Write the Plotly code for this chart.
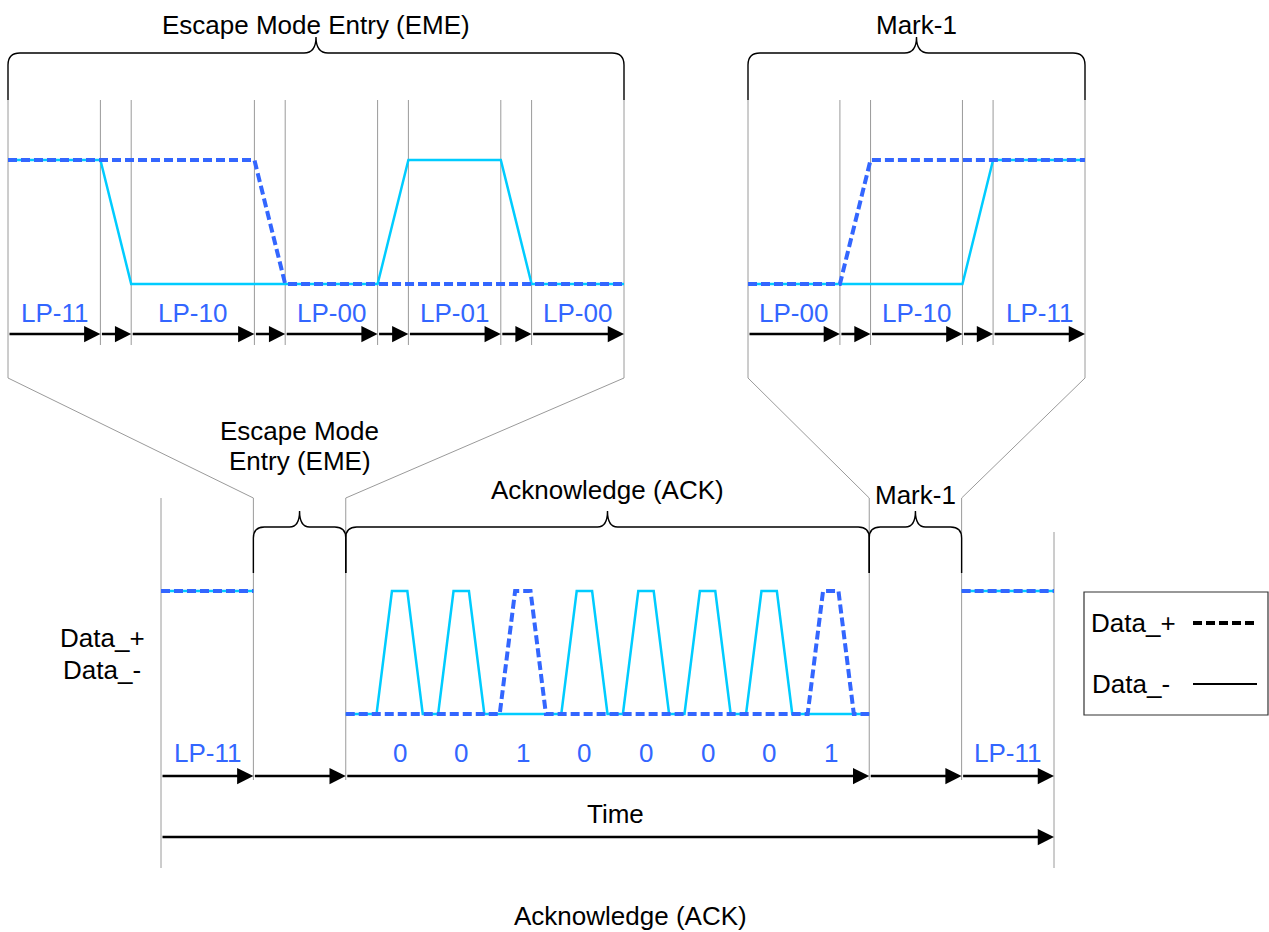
import plotly.graph_objects as go

W, H = 1269, 932

# ---------------- data ----------------
# Top-left zoom: Escape Mode Entry (time in units, level 0 = low, 1 = high)
eme_time   = [0, 3, 4, 8, 9, 12, 13, 16, 17, 20]
eme_dplus  = [1, 1, 1, 1, 0, 0, 0, 0, 0, 0]
eme_dminus = [1, 1, 0, 0, 0, 0, 1, 1, 0, 0]
eme_states = ["LP-11", "", "LP-10", "", "LP-00", "", "LP-01", "", "LP-00"]

# Top-right zoom: Mark-1
mark_time   = [0, 3, 4, 7, 8, 11]
mark_dplus  = [0, 0, 1, 1, 1, 1]
mark_dminus = [0, 0, 0, 0, 1, 1]
mark_states = ["LP-00", "", "LP-10", "", "LP-11"]

# Bottom overview sequence
seq_time   = [0, 3, 6, 23, 26, 29]
seq_states = ["LP-11", "", "", "", "LP-11"]

lp11_start_time  = [0, 3]
lp11_start_level = [1, 1]
lp11_end_time    = [26, 29]
lp11_end_level   = [1, 1]

ack_bits = ["0", "0", "1", "0", "0", "0", "0", "1"]
ack_time = [6,
            7, 7.5, 8, 8.5,
            9, 9.5, 10, 10.5,
            11, 11.5, 12, 12.5,
            13, 13.5, 14, 14.5,
            15, 15.5, 16, 16.5,
            17, 17.5, 18, 18.5,
            19, 19.5, 20, 20.5,
            21, 21.5, 22, 22.5,
            23]
ack_dplus = [0,
             0, 0, 0, 0,
             0, 0, 0, 0,
             0, 1, 1, 0,
             0, 0, 0, 0,
             0, 0, 0, 0,
             0, 0, 0, 0,
             0, 0, 0, 0,
             0, 1, 1, 0,
             0]
ack_dminus = [0,
              0, 1, 1, 0,
              0, 1, 1, 0,
              0, 0, 0, 0,
              0, 1, 1, 0,
              0, 1, 1, 0,
              0, 1, 1, 0,
              0, 1, 1, 0,
              0, 0, 0, 0,
              0]

# ---------------- styles / layout constants ----------------
C_PLUS = "#3366FF"
C_MINUS = "#00CCFF"
C_LABEL = "#3366FF"
C_GRID = "#9a9a9a"
FONT = "Liberation Sans, Arial, Helvetica, sans-serif"
FS = 26
DASH = "9px,4px"

# panel placement in pixels: time span -> x pixels, level 1/0 -> y pixels
TL = dict(t=(0, 20), px=(8, 624), hi=160, lo=284, ax=("x", "y"))
TR = dict(t=(0, 11), px=(748, 1085), hi=160, lo=284, ax=("x2", "y2"))
BT = dict(t=(0, 29), px=(161, 1054), hi=591, lo=714, ax=("x3", "y3"))
CV = ("x4", "y4")  # pixel canvas for decorations


def xrng(p):
    (t0, t1), (p0, p1) = p["t"], p["px"]
    s = (p1 - p0) / (t1 - t0)
    return [t0 - p0 / s, t0 + (W - p0) / s]


def yrng(p):
    s = (p["hi"] - p["lo"])  # pixels per level unit (negative)
    return [(H - p["lo"]) / s, (0 - p["lo"]) / s]


def tpx(p, t):
    (t0, t1), (p0, p1) = p["t"], p["px"]
    return p0 + (t - t0) * (p1 - p0) / (t1 - t0)


fig = go.Figure()


def add_signal(p, t, dm, dp):
    xa, ya = p["ax"]
    fig.add_trace(go.Scatter(x=t, y=dm, mode="lines", xaxis=xa, yaxis=ya,
                             line=dict(color=C_MINUS, width=2.5), hoverinfo="skip"))
    fig.add_trace(go.Scatter(x=t, y=dp, mode="lines", xaxis=xa, yaxis=ya,
                             line=dict(color=C_PLUS, width=4, dash=DASH), hoverinfo="skip"))


add_signal(TL, eme_time, eme_dminus, eme_dplus)
add_signal(TR, mark_time, mark_dminus, mark_dplus)
add_signal(BT, lp11_start_time, lp11_start_level, lp11_start_level)
add_signal(BT, ack_time, ack_dminus, ack_dplus)
add_signal(BT, lp11_end_time, lp11_end_level, lp11_end_level)

shapes = []
annots = []


def vline(p, t, y0, y1):
    shapes.append(dict(type="line", xref=p["ax"][0], yref=CV[1], x0=t, x1=t, y0=y0, y1=y1,
                       line=dict(color=C_GRID, width=1), layer="below"))


def arrow(p, t0, t1, y):
    xa = p["ax"][0]
    annots.append(dict(x=t1, y=y, ax=t0, ay=y, xref=xa, axref=xa, yref=CV[1], ayref=CV[1],
                       text="", showarrow=True, arrowhead=2, arrowsize=1.25, arrowwidth=2.6,
                       arrowcolor="black", standoff=0, startstandoff=0))


def label(xref, x, y, text, color="black"):
    annots.append(dict(x=x, y=y, xref=xref, yref=CV[1], text=text, showarrow=False,
                       xanchor="center", yanchor="middle",
                       font=dict(family=FONT, size=FS, color=color)))


# top panels: grid, arrows, state labels
for p, times, states in ((TL, eme_time, eme_states), (TR, mark_time, mark_states)):
    for i, t in enumerate(times):
        outer = i == 0 or i == len(times) - 1
        vline(p, t, 100, 378 if outer else 345)
    for i in range(len(times) - 1):
        arrow(p, times[i], times[i + 1], 334)
        if states[i]:
            label(p["ax"][0], (times[i] + times[i + 1]) / 2, 313, states[i], C_LABEL)

# bottom panel
for i, t in enumerate(seq_time):
    if i == 0:
        vline(BT, t, 498, 868)
    elif i == len(seq_time) - 1:
        vline(BT, t, 532, 868)
    else:
        vline(BT, t, 498, 780)
for i in range(len(seq_time) - 1):
    arrow(BT, seq_time[i], seq_time[i + 1], 776)
    if seq_states[i]:
        label(BT["ax"][0], (seq_time[i] + seq_time[i + 1]) / 2, 753, seq_states[i], C_LABEL)
arrow(BT, seq_time[0], seq_time[-1], 837)
for k, b in enumerate(ack_bits):
    tc = (ack_time[2 + 4 * k] + ack_time[3 + 4 * k]) / 2
    label(BT["ax"][0], tc, 753, b, C_LABEL)


# braces and connectors (pixel canvas)
def brace(x0, x1, xm, y_line, y_tip, y_side, r, w):
    path = (f"M{x0},{y_side} L{x0},{y_line + r} Q{x0},{y_line} {x0 + r},{y_line} "
            f"L{xm - w},{y_line} Q{xm},{y_line} {xm},{y_tip} "
            f"Q{xm},{y_line} {xm + w},{y_line} L{x1 - r},{y_line} "
            f"Q{x1},{y_line} {x1},{y_line + r} L{x1},{y_side}")
    shapes.append(dict(type="path", path=path, xref=CV[0], yref=CV[1],
                       line=dict(color="black", width=1.4)))


def seg(x0, y0, x1, y1, color=C_GRID, width=1, dash=None):
    shapes.append(dict(type="line", xref=CV[0], yref=CV[1], x0=x0, y0=y0, x1=x1, y1=y1,
                       line=dict(color=color, width=width, dash=dash), layer="below"))


tl0, tl1 = tpx(TL, eme_time[0]), tpx(TL, eme_time[-1])
tr0, tr1 = tpx(TR, mark_time[0]), tpx(TR, mark_time[-1])
b = [tpx(BT, t) for t in seq_time]

brace(tl0, tl1, (tl0 + tl1) / 2, 53, 37, 100, 12, 12)
brace(tr0, tr1, (tr0 + tr1) / 2, 53, 37, 100, 12, 12)
for i in (1, 2, 3):
    brace(b[i], b[i + 1], (b[i] + b[i + 1]) / 2, 527, 511, 573, 11, 10)

seg(tl0, 378, b[1], 498)
seg(tl1, 378, b[2], 498)
seg(tr0, 378, b[3], 498)
seg(tr1, 378, b[4], 498)

# titles and captions
label(CV[0], (tl0 + tl1) / 2, 25, "Escape Mode Entry (EME)")
label(CV[0], (tr0 + tr1) / 2, 25, "Mark-1")
label(CV[0], (b[1] + b[2]) / 2, 431, "Escape Mode")
label(CV[0], (b[1] + b[2]) / 2, 461, "Entry (EME)")
label(CV[0], (b[2] + b[3]) / 2, 490, "Acknowledge (ACK)")
label(CV[0], (b[3] + b[4]) / 2, 495, "Mark-1")
label(CV[0], 102, 638, "Data_+")
label(CV[0], 102, 670, "Data_-")
label(CV[0], 615, 814, "Time")
label(CV[0], 630, 916, "Acknowledge (ACK)")

# legend box
shapes.append(dict(type="rect", xref=CV[0], yref=CV[1], x0=1084, x1=1268, y0=592, y1=715,
                   line=dict(color="#333333", width=1.2), fillcolor="rgba(0,0,0,0)"))
label(CV[0], 1133, 623, "Data_+")
label(CV[0], 1131, 684, "Data_-")
seg(1193, 623, 1257, 623, color="black", width=4, dash="9px,4px")
seg(1193, 684, 1257, 684, color="black", width=2.2)

axis_common = dict(visible=False, fixedrange=True, showgrid=False, zeroline=False)
fig.update_layout(
    width=W, height=H, autosize=False,
    margin=dict(l=0, r=0, t=0, b=0, pad=0),
    paper_bgcolor="white", plot_bgcolor="rgba(0,0,0,0)",
    showlegend=False,
    font=dict(family=FONT, size=FS, color="black"),
    xaxis=dict(range=xrng(TL), domain=[0, 1], anchor="y", **axis_common),
    yaxis=dict(range=yrng(TL), domain=[0, 1], anchor="x", **axis_common),
    xaxis2=dict(range=xrng(TR), domain=[0, 1], anchor="y2", overlaying="x", **axis_common),
    yaxis2=dict(range=yrng(TR), domain=[0, 1], anchor="x2", overlaying="y", **axis_common),
    xaxis3=dict(range=xrng(BT), domain=[0, 1], anchor="y3", overlaying="x", **axis_common),
    yaxis3=dict(range=yrng(BT), domain=[0, 1], anchor="x3", overlaying="y", **axis_common),
    xaxis4=dict(range=[0, W], domain=[0, 1], anchor="y4", overlaying="x", **axis_common),
    yaxis4=dict(range=[H, 0], domain=[0, 1], anchor="x4", overlaying="y", **axis_common),
    shapes=shapes,
    annotations=annots,
)

fig.write_html("out.html", config={"displayModeBar": False},
               post_script="document.body.style.margin='0px';document.body.style.overflow='hidden';")
